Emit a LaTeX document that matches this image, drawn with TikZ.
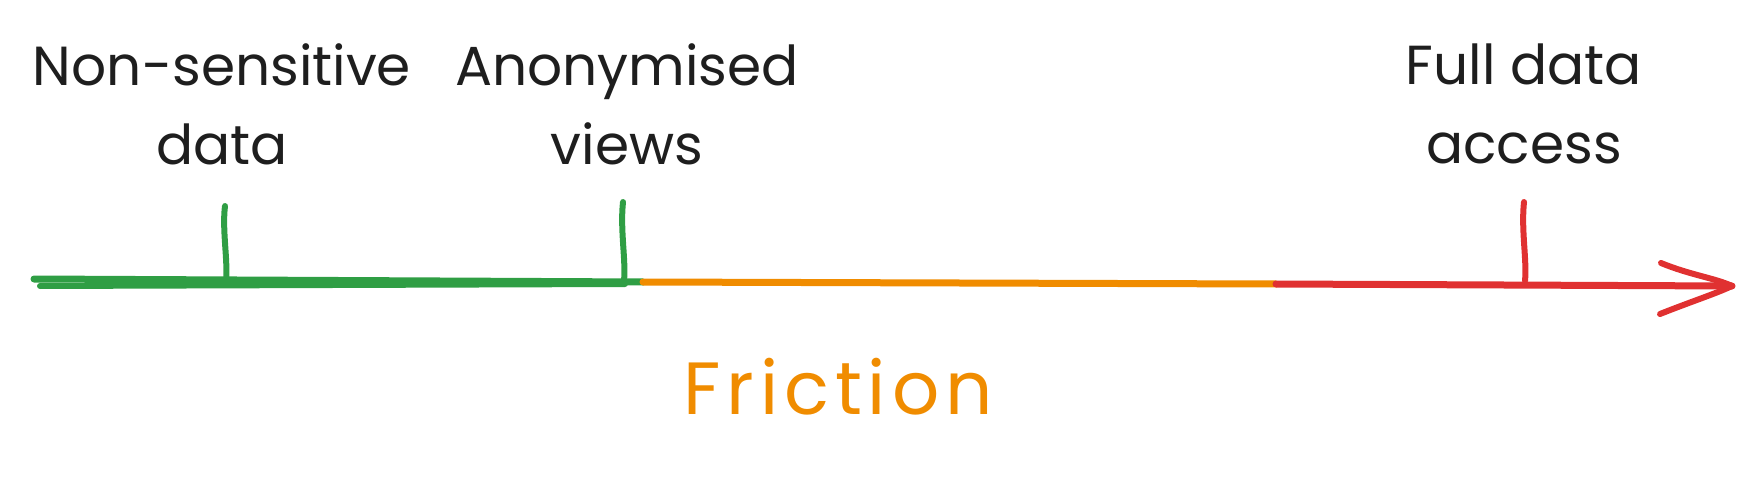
\documentclass[tikz,border=0pt]{standalone}
\usepackage{fontspec}
\setmainfont{Poppins}
\newfontfamily\widefont{Poppins}[LetterSpace=8]
\definecolor{safegreen}{HTML}{2F9E44}
\definecolor{midorange}{HTML}{F08C00}
\definecolor{riskred}{HTML}{E03131}
\definecolor{ink}{HTML}{1E1E1E}
\tikzset{
  axisline/.style={line width=7pt, line cap=round, line join=round},
  stagetick/.style={line width=6pt, line cap=round},
  stagetext/.style={text=ink, font=\fontsize{55}{79}\selectfont, align=center}
}

\begin{document}
\begin{tikzpicture}[x=1pt, y=-1pt]
  \useasboundingbox (0,0) rectangle (1763,478);

  \coordinate (g0) at (34,279);
  \coordinate (g0b) at (40,286);
  \coordinate (g1) at (643,282);
  \coordinate (g1b) at (625,284);
  \coordinate (o1) at (1276,284);
  \coordinate (tip) at (1732,286);
  \coordinate (arma) at (1661,263);
  \coordinate (armb) at (1660,314);

  \draw[axisline, safegreen] (g0) -- (g1);
  \draw[axisline, safegreen, line width=6pt] (g0b) -- (g1b);
  \draw[axisline, midorange] (g1) -- (o1);
  \draw[axisline, riskred] (o1) -- (tip);
  \draw[axisline, riskred, line width=6pt] (arma) .. controls (1690,275) and (1715,278) .. (tip);
  \draw[axisline, riskred, line width=6pt] (armb) .. controls (1690,302) and (1715,294) .. (tip);

  \foreach \name/\x/\top/\col in {nonsens/225/206/safegreen, anon/623/202/safegreen, full/1524/202/riskred}{
    \coordinate (\name top) at (\x,\top);
    \coordinate (\name foot) at (\x+1,281);
    \draw[stagetick, \col] (\name top) .. controls (\x-3,230) and (\x+3,260) .. (\name foot);
  }

  \node[stagetext] (nonsenslbl) at (222,104) {Non-sensitive\\data};
  \node[stagetext] (anonlbl) at (627,104) {Anonymised\\views};
  \node[stagetext] (fulllbl) at (1524,104) {Full data\\access};

  \node[text=midorange, font=\widefont\fontsize{74}{88}\selectfont] (friction) at (838,387) {Friction};
\end{tikzpicture}
\end{document}
